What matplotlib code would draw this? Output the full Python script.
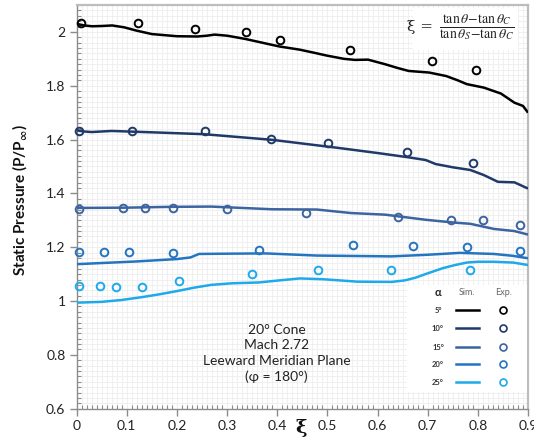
import matplotlib
matplotlib.use("Agg")
import matplotlib.pyplot as plt
from matplotlib.ticker import MultipleLocator, FixedLocator
from matplotlib.patches import Rectangle
from matplotlib.lines import Line2D

plt.rcParams['font.family'] = ['Lato', 'DejaVu Sans']
plt.rcParams['mathtext.fontset'] = 'stix'

# Angles of attack and series colours
alphas = ['5°', '10°', '15°', '20°', '25°']
colors = ['#000000', '#1f3a68', '#3c64a0', '#2474bf', '#1eaaea']

# Simulation curves (xi, P/Pinf)
sim_xi_5 = [0.0, 0.015, 0.031, 0.05, 0.071, 0.095, 0.119, 0.15, 0.2, 0.241, 0.26, 0.275, 0.30,
            0.336, 0.37, 0.404, 0.445, 0.47, 0.499, 0.533, 0.555, 0.581, 0.615, 0.64, 0.662,
            0.703, 0.737, 0.76, 0.778, 0.812, 0.846, 0.873, 0.89, 0.9]
sim_p_5 = [2.03, 2.024, 2.021, 2.022, 2.024, 2.017, 2.005, 1.992, 1.984, 1.983, 1.986, 1.99,
           1.986, 1.974, 1.960, 1.946, 1.934, 1.924, 1.912, 1.900, 1.896, 1.897, 1.880, 1.866,
           1.855, 1.849, 1.836, 1.820, 1.806, 1.793, 1.771, 1.737, 1.725, 1.700]

sim_xi_10 = [0.0, 0.015, 0.03, 0.07, 0.15, 0.254, 0.39, 0.526, 0.60, 0.662, 0.696, 0.716,
             0.75, 0.785, 0.812, 0.84, 0.873, 0.9]
sim_p_10 = [1.634, 1.630, 1.628, 1.632, 1.627, 1.620, 1.599, 1.568, 1.550, 1.534, 1.524,
            1.509, 1.497, 1.487, 1.468, 1.443, 1.441, 1.418]

sim_xi_15 = [0.0, 0.1, 0.186, 0.268, 0.33, 0.39, 0.479, 0.547, 0.615, 0.696, 0.75, 0.785,
             0.832, 0.873, 0.9]
sim_p_15 = [1.346, 1.347, 1.350, 1.351, 1.346, 1.341, 1.340, 1.327, 1.321, 1.302, 1.292,
            1.287, 1.268, 1.260, 1.247]

sim_xi_20 = [0.0, 0.118, 0.20, 0.227, 0.244, 0.30, 0.377, 0.479, 0.628, 0.70, 0.764, 0.832,
             0.87, 0.9]
sim_p_20 = [1.137, 1.147, 1.156, 1.162, 1.175, 1.176, 1.177, 1.169, 1.166, 1.172, 1.179,
            1.175, 1.168, 1.159]

sim_xi_25 = [0.0, 0.05, 0.09, 0.132, 0.165, 0.2, 0.235, 0.268, 0.31, 0.363, 0.40, 0.445, 0.492,
             0.56, 0.628, 0.655, 0.676, 0.70, 0.73, 0.755, 0.778, 0.80, 0.832, 0.87, 0.9]
sim_p_25 = [0.994, 0.997, 1.004, 1.015, 1.025, 1.037, 1.050, 1.060, 1.066, 1.069, 1.076,
            1.084, 1.081, 1.072, 1.071, 1.077, 1.087, 1.103, 1.122, 1.134, 1.143, 1.146,
            1.146, 1.143, 1.134]

# Experimental measurements
exp_xi_5 = [0.009, 0.123, 0.236, 0.337, 0.406, 0.545, 0.709, 0.797]
exp_p_5 = [2.034, 2.033, 2.010, 1.998, 1.970, 1.931, 1.891, 1.858]

exp_xi_10 = [0.004, 0.111, 0.256, 0.387, 0.501, 0.658, 0.790]
exp_p_10 = [1.633, 1.633, 1.633, 1.603, 1.587, 1.552, 1.512]

exp_xi_15 = [0.004, 0.092, 0.136, 0.193, 0.300, 0.457, 0.640, 0.747, 0.810, 0.885]
exp_p_15 = [1.341, 1.347, 1.347, 1.345, 1.342, 1.326, 1.312, 1.301, 1.301, 1.282]

exp_xi_20 = [0.004, 0.055, 0.104, 0.193, 0.363, 0.551, 0.671, 0.779, 0.885]
exp_p_20 = [1.182, 1.182, 1.182, 1.179, 1.189, 1.207, 1.205, 1.199, 1.186]

exp_xi_25 = [0.004, 0.047, 0.079, 0.130, 0.205, 0.350, 0.482, 0.627, 0.785]
exp_p_25 = [1.055, 1.055, 1.052, 1.052, 1.074, 1.099, 1.117, 1.117, 1.115]

sim_xi = [sim_xi_5, sim_xi_10, sim_xi_15, sim_xi_20, sim_xi_25]
sim_p = [sim_p_5, sim_p_10, sim_p_15, sim_p_20, sim_p_25]
exp_xi = [exp_xi_5, exp_xi_10, exp_xi_15, exp_xi_20, exp_xi_25]
exp_p = [exp_p_5, exp_p_10, exp_p_15, exp_p_20, exp_p_25]

x_ticks = [0, 0.1, 0.2, 0.3, 0.4, 0.5, 0.6, 0.7, 0.8, 0.9]
x_labels = ['0', '0.1', '0.2', '0.3', '0.4', '0.5', '0.6', '0.7', '0.8', '0.9']
y_ticks = [0.6, 0.8, 1.0, 1.2, 1.4, 1.6, 1.8, 2.0]
y_labels = ['0.6', '0.8', '1', '1.2', '1.4', '1.6', '1.8', '2']

W, H = 534, 438
fig = plt.figure(figsize=(W / 100, H / 100), dpi=100)
ax_l, ax_r, ax_t, ax_b = 76.6, 528, 5, 408.7
ax = fig.add_axes([ax_l / W, 1 - ax_b / H, (ax_r - ax_l) / W, (ax_b - ax_t) / H])

ax.set_xlim(0, 0.9)
ax.set_ylim(0.6, 2.1)

# Fine background grid
ax.xaxis.set_minor_locator(MultipleLocator(0.01))
ax.yaxis.set_minor_locator(MultipleLocator(0.02))
ax.grid(which='both', color='#eeeeee', linewidth=0.6, zorder=0)
ax.set_axisbelow(True)

ax.xaxis.set_major_locator(FixedLocator(x_ticks))
ax.set_xticklabels(x_labels)
ax.yaxis.set_major_locator(FixedLocator(y_ticks))
ax.set_yticklabels(y_labels)
ax.tick_params(which='major', direction='out', length=5, width=1, color='#8c8c8c',
               labelsize=10, labelcolor='#222222', pad=3)
ax.tick_params(which='minor', direction='in', length=3, width=0.8, color='#8c8c8c')

for side in ['left', 'bottom']:
    ax.spines[side].set_color('#8c8c8c')
    ax.spines[side].set_linewidth(1.0)
for side in ['top', 'right']:
    ax.spines[side].set_color('#bdbdbd')
    ax.spines[side].set_linewidth(1.6)

for i in range(len(alphas)):
    ax.plot(sim_xi[i], sim_p[i], color=colors[i], lw=1.8, zorder=3,
            solid_capstyle='butt', solid_joinstyle='round')
    ax.plot(exp_xi[i], exp_p[i], linestyle='none', marker='o', markersize=5.5,
            markerfacecolor='none', markeredgecolor=colors[i], markeredgewidth=1.4,
            zorder=4, clip_on=False)

# Definition of the normalized coordinate
ax.add_patch(Rectangle((0.745, 0.888), 0.232, 0.104, transform=ax.transAxes,
                       facecolor='white', edgecolor='none', zorder=5))
fig.text(433 / W, 1 - 27 / H, 'ξ =', family='DejaVu Serif', fontsize=11,
         color='#222222', ha='right', va='center', zorder=6)
fig.text(477 / W, 1 - 27 / H,
         r'$\dfrac{\tan\theta\!-\!\tan\theta_C}{\tan\theta_S\!-\!\tan\theta_C}$',
         fontsize=10, color='#222222', ha='center', va='center', zorder=6)

# Case description
ax.text(0.443, 0.1365, '20° Cone\nMach 2.72\nLeeward Meridian Plane\n(φ = 180°)',
        transform=ax.transAxes, ha='center', va='center', fontsize=10,
        color='#222222', linespacing=1.35, zorder=6)

# Legend table
lax = ax.inset_axes([0.732, 0.041, 0.266, 0.265])
lax.set_xlim(0, 1)
lax.set_ylim(0, 1)
lax.set_facecolor('white')
lax.set_xticks([])
lax.set_yticks([])
for s in lax.spines.values():
    s.set_visible(False)
lax.set_zorder(6)
lax.text(0.258, 0.935, 'α', ha='center', va='center', fontsize=8, color='#222222',
         fontweight='bold')
lax.text(0.50, 0.935, 'Sim.', ha='center', va='center', fontsize=6.5, color='#666666')
lax.text(0.80, 0.935, 'Exp.', ha='center', va='center', fontsize=6.5, color='#666666')
row_y = [0.766, 0.598, 0.421, 0.262, 0.093]
for i, a in enumerate(alphas):
    lax.text(0.258, row_y[i], a, ha='center', va='center', fontsize=5.5,
             fontweight='bold', color='#333333')
    lax.add_line(Line2D([0.408, 0.60], [row_y[i], row_y[i]], color=colors[i], lw=1.8))
    lax.plot([0.80], [row_y[i]], marker='o', markersize=5, markerfacecolor='none',
             markeredgecolor=colors[i], markeredgewidth=1.2)

# Axis titles
fig.text(20 / W, 1 - 200 / H, r'Static Pressure (P/P$_\mathbf{\infty}$)', rotation=90,
         ha='center', va='center', fontsize=11, fontweight='bold', color='#111111')
fig.text(301 / W, 1 - 428 / H, 'ξ', family='DejaVu Serif', fontweight='bold',
         fontsize=14, ha='center', va='center', color='#111111')

fig.savefig('out.png', dpi=100)
